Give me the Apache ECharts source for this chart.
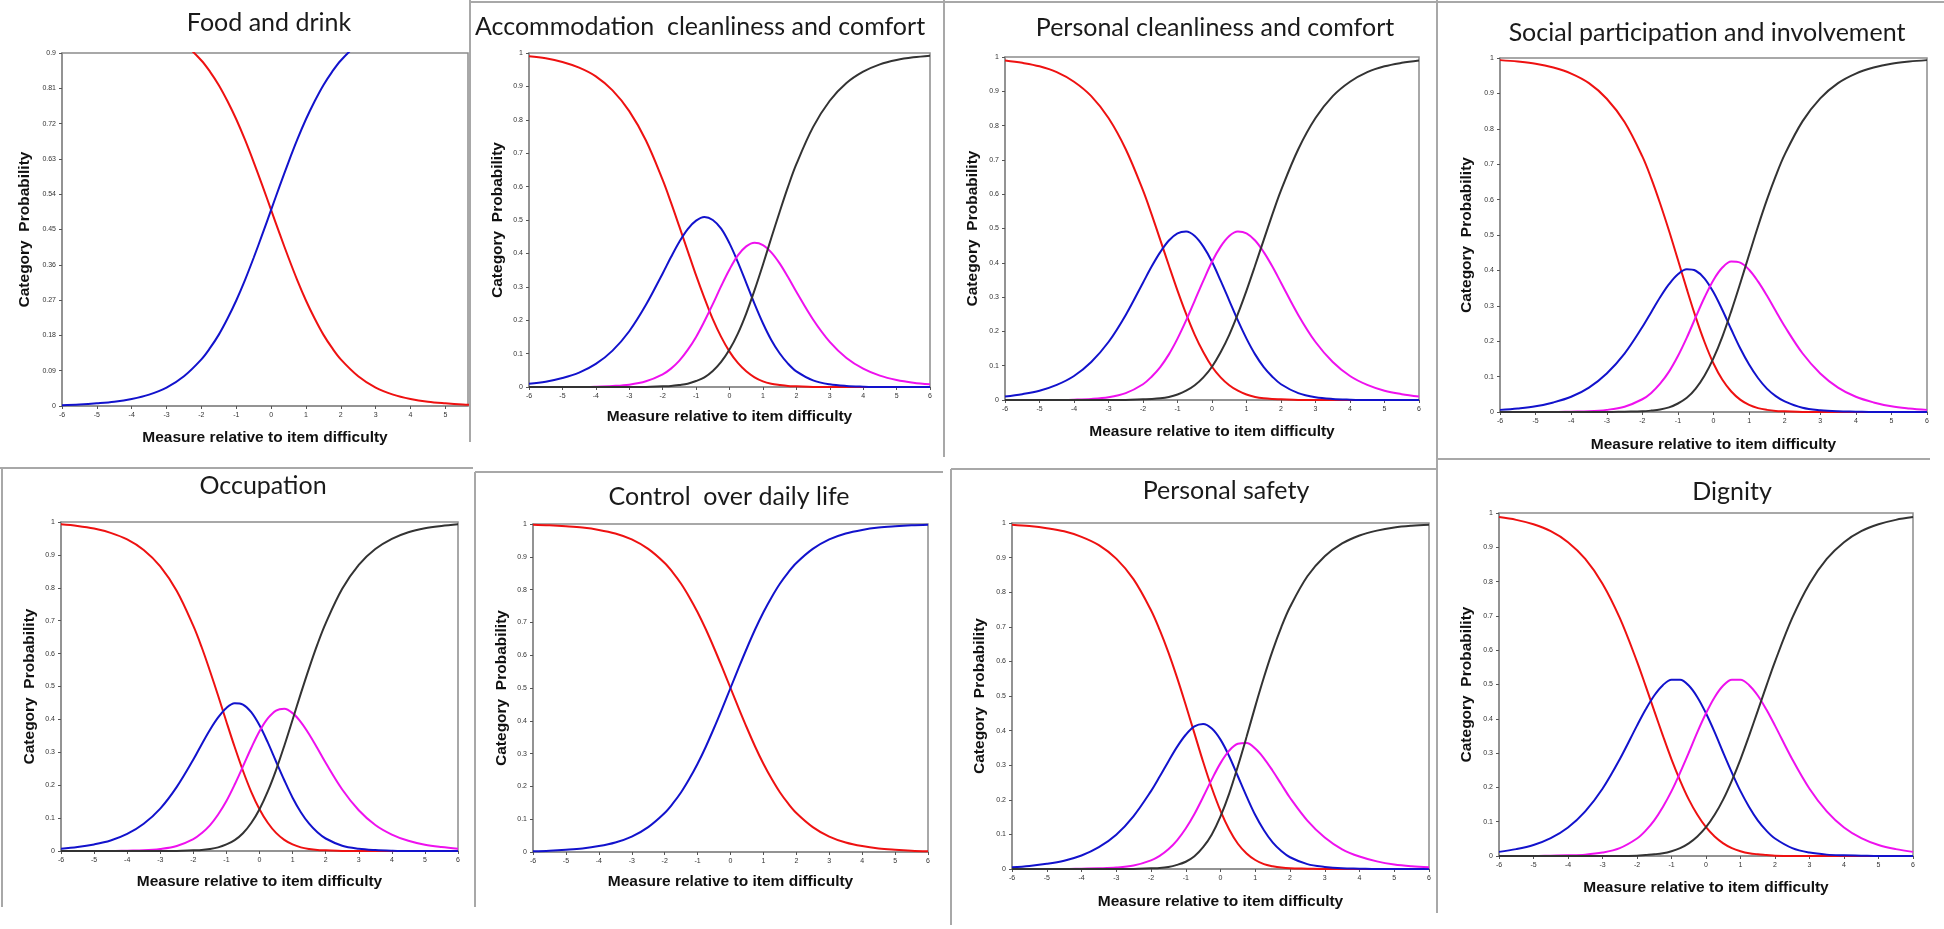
<!DOCTYPE html>
<html>
<head>
<meta charset="utf-8">
<script src="https://cdn.jsdelivr.net/npm/echarts@6/dist/echarts.min.js"></script>
<style>
  html, body { margin: 0; padding: 0; background: #fff; }
  #root { width: 1944px; height: 929px; }
</style>
</head>
<body>
<div id="root"></div>
<script>
// measure relative to item difficulty, where the curves were read
var measures = [-6, -5.5, -5, -4.5, -4, -3.5, -3, -2.5, -2, -1.75, -1.5, -1.25, -1, -0.75, -0.5, -0.25, 0,
  0.25, 0.5, 0.75, 1, 1.25, 1.5, 1.75, 2, 2.5, 3, 3.5, 4, 4.5, 5, 5.5, 6];

// Food and drink (2 categories)
var foodCat0 = [0.998, 0.996, 0.993, 0.989, 0.982, 0.971, 0.953, 0.924, 0.881, 0.852, 0.818, 0.777, 0.731, 0.679, 0.622, 0.562, 0.5,
  0.438, 0.378, 0.321, 0.269, 0.223, 0.182, 0.148, 0.119, 0.076, 0.047, 0.029, 0.018, 0.011, 0.007, 0.004, 0.002];
var foodCat1 = [0.002, 0.004, 0.007, 0.011, 0.018, 0.029, 0.047, 0.076, 0.119, 0.148, 0.182, 0.223, 0.269, 0.321, 0.378, 0.438, 0.5,
  0.562, 0.622, 0.679, 0.731, 0.777, 0.818, 0.852, 0.881, 0.924, 0.953, 0.971, 0.982, 0.989, 0.993, 0.996, 0.998];

// Accommodation cleanliness and comfort
var accomCat0 = [0.990, 0.984, 0.973, 0.956, 0.930, 0.888, 0.826, 0.738, 0.620, 0.552, 0.480, 0.407, 0.334, 0.266, 0.203, 0.150, 0.106,
  0.072, 0.047, 0.029, 0.017, 0.010, 0.006, 0.003, 0.002, 0, 0, 0, 0, 0, 0, 0, 0];
var accomCat1 = [0.010, 0.016, 0.027, 0.043, 0.069, 0.109, 0.167, 0.246, 0.340, 0.389, 0.435, 0.473, 0.498, 0.509, 0.500, 0.474, 0.430,
  0.374, 0.312, 0.249, 0.191, 0.141, 0.101, 0.070, 0.047, 0.020, 0.008, 0.003, 0.001, 0, 0, 0, 0];
var accomCat2 = [0, 0, 0, 0, 0.001, 0.003, 0.007, 0.017, 0.038, 0.055, 0.079, 0.111, 0.150, 0.197, 0.248, 0.302, 0.352,
  0.394, 0.421, 0.432, 0.425, 0.403, 0.370, 0.329, 0.285, 0.202, 0.135, 0.087, 0.055, 0.034, 0.021, 0.013, 0.008];
var accomCat3 = [0, 0, 0, 0, 0, 0, 0, 0, 0.002, 0.003, 0.006, 0.010, 0.018, 0.029, 0.048, 0.075, 0.112,
  0.160, 0.220, 0.290, 0.366, 0.446, 0.524, 0.599, 0.667, 0.778, 0.857, 0.910, 0.944, 0.966, 0.979, 0.987, 0.992];

// Personal cleanliness and comfort
var persCat0 = [0.990, 0.983, 0.973, 0.956, 0.928, 0.886, 0.822, 0.731, 0.611, 0.541, 0.467, 0.392, 0.319, 0.251, 0.190, 0.139, 0.097,
  0.066, 0.043, 0.027, 0.016, 0.009, 0.005, 0.003, 0.002, 0, 0, 0, 0, 0, 0, 0, 0];
var persCat1 = [0.010, 0.017, 0.027, 0.044, 0.070, 0.111, 0.169, 0.248, 0.342, 0.389, 0.431, 0.465, 0.486, 0.491, 0.478, 0.447, 0.403,
  0.348, 0.290, 0.232, 0.179, 0.133, 0.096, 0.068, 0.046, 0.020, 0.008, 0.003, 0.001, 0, 0, 0, 0];
var persCat2 = [0, 0, 0, 0, 0.001, 0.003, 0.008, 0.020, 0.046, 0.068, 0.096, 0.133, 0.179, 0.232, 0.290, 0.348, 0.403,
  0.447, 0.478, 0.491, 0.486, 0.465, 0.431, 0.389, 0.342, 0.248, 0.169, 0.111, 0.070, 0.044, 0.027, 0.017, 0.010];
var persCat3 = [0, 0, 0, 0, 0, 0, 0, 0, 0.002, 0.003, 0.005, 0.009, 0.016, 0.027, 0.043, 0.066, 0.097,
  0.139, 0.190, 0.251, 0.319, 0.392, 0.467, 0.541, 0.611, 0.731, 0.822, 0.886, 0.928, 0.956, 0.973, 0.983, 0.990];

// Social participation and involvement
var socCat0 = [0.994, 0.990, 0.984, 0.973, 0.956, 0.929, 0.885, 0.819, 0.722, 0.660, 0.589, 0.512, 0.430, 0.347, 0.268, 0.197, 0.137,
  0.091, 0.058, 0.035, 0.020, 0.011, 0.006, 0.003, 0.002, 0, 0, 0, 0, 0, 0, 0, 0];
var socCat1 = [0.006, 0.010, 0.016, 0.027, 0.043, 0.069, 0.109, 0.165, 0.240, 0.282, 0.324, 0.361, 0.389, 0.403, 0.399, 0.377, 0.338,
  0.288, 0.233, 0.180, 0.134, 0.096, 0.066, 0.045, 0.030, 0.012, 0.005, 0.002, 0.001, 0, 0, 0, 0];
var socCat2 = [0, 0, 0, 0, 0.001, 0.002, 0.006, 0.015, 0.036, 0.054, 0.080, 0.114, 0.158, 0.210, 0.268, 0.324, 0.373,
  0.408, 0.425, 0.422, 0.402, 0.369, 0.329, 0.285, 0.242, 0.166, 0.109, 0.069, 0.043, 0.027, 0.016, 0.010, 0.006];
var socCat3 = [0, 0, 0, 0, 0, 0, 0, 0.001, 0.002, 0.004, 0.007, 0.013, 0.024, 0.040, 0.066, 0.103, 0.152,
  0.213, 0.285, 0.363, 0.444, 0.524, 0.599, 0.667, 0.727, 0.821, 0.886, 0.929, 0.956, 0.973, 0.984, 0.990, 0.994];

// Occupation
var occCat0 = [0.993, 0.988, 0.980, 0.967, 0.947, 0.915, 0.865, 0.790, 0.684, 0.620, 0.548, 0.472, 0.393, 0.316, 0.244, 0.180, 0.127,
  0.086, 0.055, 0.034, 0.020, 0.011, 0.006, 0.003, 0.002, 0, 0, 0, 0, 0, 0, 0, 0];
var occCat1 = [0.007, 0.012, 0.020, 0.032, 0.052, 0.083, 0.129, 0.195, 0.278, 0.324, 0.368, 0.406, 0.435, 0.449, 0.445, 0.422, 0.382,
  0.330, 0.272, 0.215, 0.162, 0.118, 0.083, 0.057, 0.038, 0.016, 0.007, 0.003, 0.001, 0, 0, 0, 0];
var occCat2 = [0, 0, 0, 0, 0.001, 0.002, 0.006, 0.015, 0.036, 0.054, 0.078, 0.111, 0.152, 0.202, 0.257, 0.313, 0.364,
  0.403, 0.427, 0.432, 0.419, 0.392, 0.355, 0.312, 0.268, 0.187, 0.124, 0.079, 0.050, 0.031, 0.019, 0.012, 0.007];
var occCat3 = [0, 0, 0, 0, 0, 0, 0, 0, 0.002, 0.003, 0.006, 0.011, 0.020, 0.033, 0.054, 0.085, 0.127,
  0.181, 0.246, 0.320, 0.399, 0.479, 0.556, 0.628, 0.692, 0.797, 0.870, 0.918, 0.949, 0.969, 0.981, 0.988, 0.993];

// Control over daily life (2 categories)
var ctrlCat0 = [0.998, 0.996, 0.993, 0.989, 0.982, 0.971, 0.953, 0.924, 0.881, 0.852, 0.818, 0.777, 0.731, 0.679, 0.622, 0.562, 0.5,
  0.438, 0.378, 0.321, 0.269, 0.223, 0.182, 0.148, 0.119, 0.076, 0.047, 0.029, 0.018, 0.011, 0.007, 0.004, 0.002];
var ctrlCat1 = [0.002, 0.004, 0.007, 0.011, 0.018, 0.029, 0.047, 0.076, 0.119, 0.148, 0.182, 0.223, 0.269, 0.321, 0.378, 0.438, 0.5,
  0.562, 0.622, 0.679, 0.731, 0.777, 0.818, 0.852, 0.881, 0.924, 0.953, 0.971, 0.982, 0.989, 0.993, 0.996, 0.998];

// Personal safety
var safeCat0 = [0.995, 0.991, 0.985, 0.976, 0.960, 0.936, 0.897, 0.837, 0.748, 0.691, 0.626, 0.553, 0.474, 0.392, 0.310, 0.234, 0.168,
  0.114, 0.073, 0.045, 0.026, 0.014, 0.008, 0.004, 0.002, 0.001, 0, 0, 0, 0, 0, 0, 0];
var safeCat1 = [0.005, 0.009, 0.015, 0.024, 0.039, 0.063, 0.099, 0.153, 0.225, 0.267, 0.311, 0.353, 0.388, 0.412, 0.419, 0.406, 0.374,
  0.326, 0.268, 0.210, 0.156, 0.112, 0.077, 0.052, 0.034, 0.014, 0.006, 0.002, 0.001, 0, 0, 0, 0];
var safeCat2 = [0, 0, 0, 0, 0.001, 0.002, 0.004, 0.010, 0.025, 0.038, 0.057, 0.083, 0.117, 0.159, 0.208, 0.259, 0.306,
  0.342, 0.362, 0.364, 0.348, 0.320, 0.284, 0.245, 0.206, 0.140, 0.091, 0.057, 0.036, 0.022, 0.013, 0.008, 0.005];
var safeCat3 = [0, 0, 0, 0, 0, 0, 0, 0, 0.002, 0.003, 0.006, 0.012, 0.021, 0.037, 0.063, 0.100, 0.152,
  0.218, 0.297, 0.382, 0.470, 0.554, 0.631, 0.699, 0.757, 0.846, 0.904, 0.941, 0.964, 0.978, 0.987, 0.992, 0.995];

// Dignity
var dignCat0 = [0.988, 0.980, 0.967, 0.947, 0.915, 0.866, 0.794, 0.694, 0.567, 0.496, 0.423, 0.351, 0.282, 0.220, 0.165, 0.120, 0.084,
  0.057, 0.037, 0.023, 0.014, 0.008, 0.005, 0.003, 0.001, 0, 0, 0, 0, 0, 0, 0, 0];
var dignCat1 = [0.012, 0.020, 0.032, 0.052, 0.083, 0.130, 0.196, 0.282, 0.380, 0.427, 0.468, 0.498, 0.514, 0.514, 0.497, 0.463, 0.416,
  0.361, 0.301, 0.243, 0.189, 0.143, 0.104, 0.074, 0.051, 0.023, 0.010, 0.004, 0.002, 0.001, 0, 0, 0];
var dignCat2 = [0, 0, 0, 0.001, 0.002, 0.004, 0.010, 0.023, 0.051, 0.074, 0.104, 0.143, 0.189, 0.243, 0.301, 0.361, 0.416,
  0.463, 0.497, 0.514, 0.514, 0.498, 0.468, 0.427, 0.380, 0.282, 0.196, 0.130, 0.083, 0.052, 0.032, 0.020, 0.012];
var dignCat3 = [0, 0, 0, 0, 0, 0, 0, 0, 0.001, 0.003, 0.005, 0.008, 0.014, 0.023, 0.037, 0.057, 0.084,
  0.120, 0.165, 0.220, 0.282, 0.351, 0.423, 0.496, 0.567, 0.694, 0.794, 0.866, 0.915, 0.947, 0.967, 0.980, 0.988];

var titles = ['Food and drink', 'Accommodation  cleanliness and comfort', 'Personal cleanliness and comfort',
  'Social participation and involvement', 'Occupation', 'Control  over daily life', 'Personal safety', 'Dignity'];
var curves = [
  [foodCat0, foodCat1],
  [accomCat0, accomCat1, accomCat2, accomCat3],
  [persCat0, persCat1, persCat2, persCat3],
  [socCat0, socCat1, socCat2, socCat3],
  [occCat0, occCat1, occCat2, occCat3],
  [ctrlCat0, ctrlCat1],
  [safeCat0, safeCat1, safeCat2, safeCat3],
  [dignCat0, dignCat1, dignCat2, dignCat3]
];
var yMaxes = [0.9, 1, 1, 1, 1, 1, 1, 1];
var yIntervals = [0.09, 0.1, 0.1, 0.1, 0.1, 0.1, 0.1, 0.1];
var xMaxes = [5.65, 6, 6, 6, 6, 6, 6, 6];

// plot boxes: left, top, right, bottom, y-name gap, x-name gap, title centre x, title centre y
var boxes = [
  [62, 53, 468, 406, 29, 24, 269, 23],
  [529, 53, 930, 387, 23, 22, 700, 27],
  [1005, 57, 1419, 400, 24, 24, 1215, 28],
  [1500, 58, 1927, 412, 25, 25, 1707, 33],
  [61, 522, 458, 851, 23, 23, 263, 486],
  [533, 524, 928, 852, 23, 22, 729, 497],
  [1012, 523, 1429, 869, 24, 25, 1226, 491],
  [1499, 513, 1913, 856, 24, 24, 1732, 492]
];
var catColors = ['#ee1111', '#1212cc', '#ee11ee', '#333333'];
var frameColor = '#8c8c8c';
var nameStyle = { fontFamily: 'Liberation Sans', fontWeight: 'bold', fontSize: 15.5, color: '#111' };

var grids = [], xAxes = [], yAxes = [], series = [], graphics = [];

boxes.forEach(function (b, i) {
  grids.push({
    left: b[0], top: b[1], width: b[2] - b[0], height: b[3] - b[1],
    show: true, borderColor: frameColor, borderWidth: 1.5, backgroundColor: '#fff'
  });
  xAxes.push({
    gridIndex: i, type: 'value', min: -6, max: xMaxes[i], interval: 1,
    name: 'Measure relative to item difficulty', nameLocation: 'middle', nameGap: b[5],
    nameTextStyle: nameStyle,
    axisLine: { onZero: false, lineStyle: { color: frameColor, width: 1.5 } },
    axisTick: { length: 3, lineStyle: { color: '#555' } },
    axisLabel: { fontSize: 7, color: '#333', margin: 6, showMaxLabel: xMaxes[i] === 6 },
    splitLine: { show: false }
  });
  yAxes.push({
    gridIndex: i, type: 'value', min: 0, max: yMaxes[i], interval: yIntervals[i],
    name: 'Category  Probability', nameLocation: 'middle', nameRotate: 90, nameGap: b[4],
    nameTextStyle: nameStyle,
    axisLine: { onZero: false, lineStyle: { color: frameColor, width: 1.5 } },
    axisTick: { length: 3, lineStyle: { color: '#555' } },
    axisLabel: { fontSize: 7, color: '#333', margin: 6 },
    splitLine: { show: false }
  });
  curves[i].forEach(function (vals, k) {
    var c = curves[i].length === 2 && k === 1 ? catColors[1] : catColors[k];
    series.push({
      type: 'line', xAxisIndex: i, yAxisIndex: i, smooth: 0.35, showSymbol: false,
      lineStyle: { color: c, width: 2 }, itemStyle: { color: c },
      data: measures.map(function (m, j) { return [m, vals[j]]; })
    });
  });
  graphics.push({
    type: 'text', x: b[6], y: b[7],
    style: { text: titles[i], textAlign: 'center', textVerticalAlign: 'middle',
      font: '25px Lato', fill: '#1a1a1a' }
  });
});

// screenshot frames around the panels
var frameLines = [
  [470, 0, 470, 442], [470, 2, 1944, 2], [944, 0, 944, 457], [1437, 0, 1437, 913],
  [1437, 459, 1930, 459], [0, 468, 473, 468], [2, 468, 2, 907], [475, 472, 475, 907],
  [475, 472, 943, 472], [951, 469, 951, 925], [951, 469, 1437, 469]
];
frameLines.forEach(function (l) {
  graphics.push({ type: 'line', shape: { x1: l[0], y1: l[1], x2: l[2], y2: l[3] },
    style: { stroke: '#a8a8a8', lineWidth: 2 } });
});

var chart = echarts.init(document.getElementById('root'));
chart.setOption({
  animation: false,
  backgroundColor: '#fff',
  grid: grids,
  xAxis: xAxes,
  yAxis: yAxes,
  series: series,
  graphic: graphics
});
</script>
</body>
</html>
